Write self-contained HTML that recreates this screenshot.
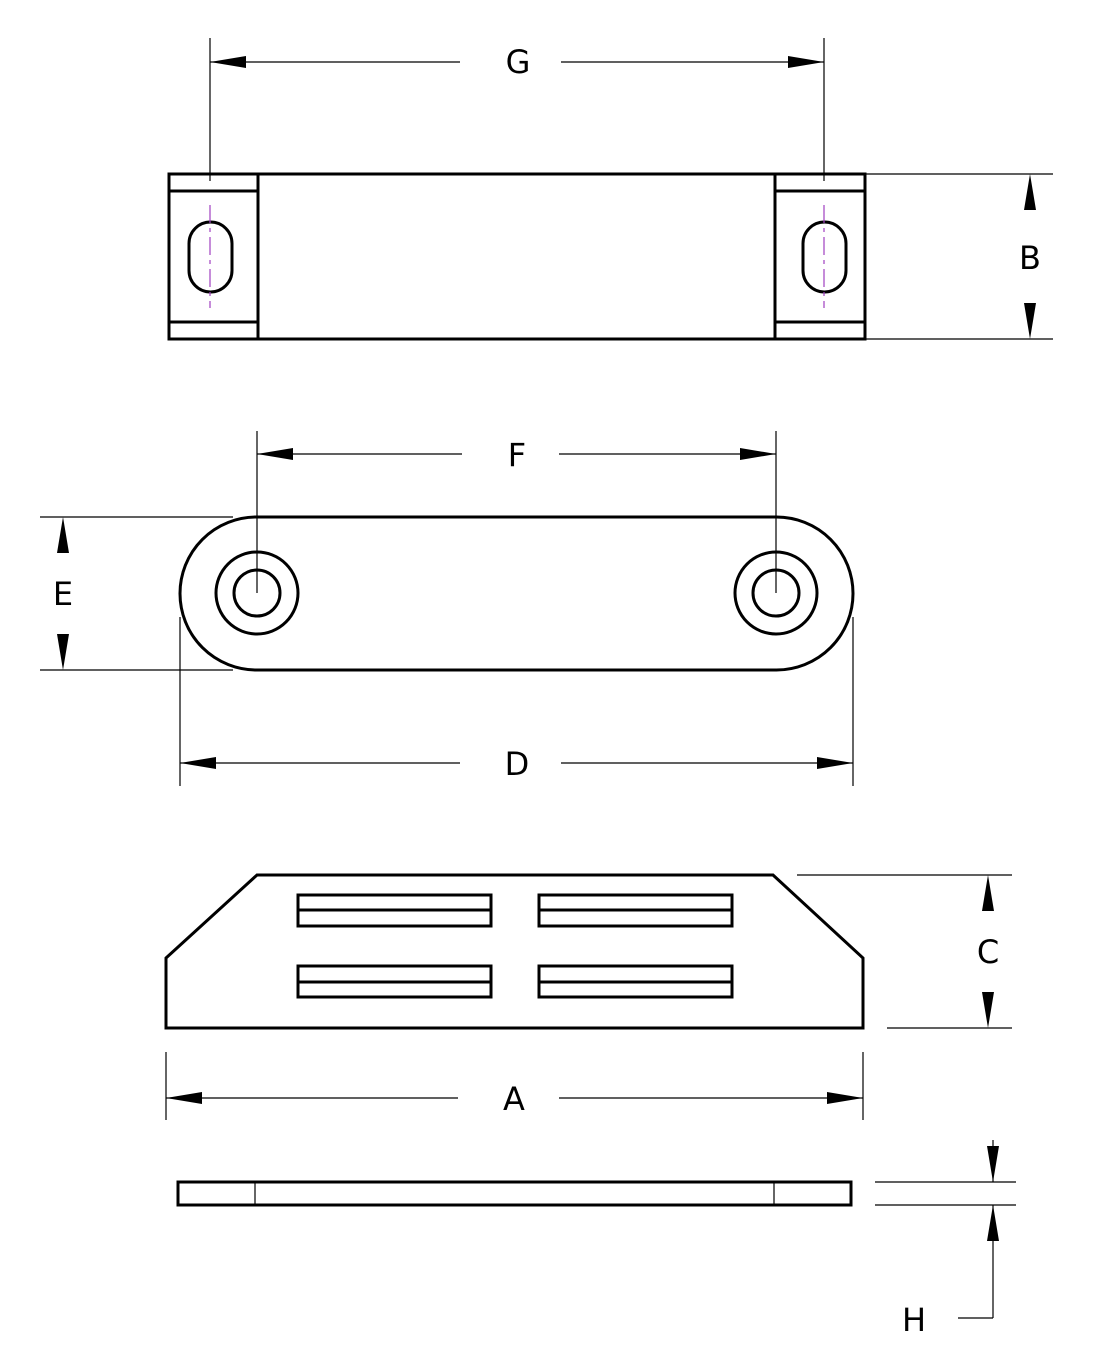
<!DOCTYPE html>
<html><head><meta charset="utf-8"><style>
html,body{margin:0;padding:0;background:#fff;}
svg{display:block;}
text{font-family:"DejaVu Sans","Liberation Sans",sans-serif;font-size:32px;fill:#000;text-anchor:middle;dominant-baseline:central;}
</style></head><body>
<svg width="1096" height="1369" viewBox="0 0 1096 1369" xmlns="http://www.w3.org/2000/svg">
<defs>
<g id="ar"><polygon points="0,0 -6,36 6,36" fill="#000"/></g>
</defs>
<g fill="none" stroke="#000">
<!-- TOP VIEW -->
<g stroke-width="3">
<rect x="169" y="174" width="696" height="165"/>
<line x1="258" y1="174" x2="258" y2="339"/>
<line x1="775" y1="174" x2="775" y2="339"/>
<line x1="169" y1="191" x2="258" y2="191"/>
<line x1="169" y1="322" x2="258" y2="322"/>
<line x1="775" y1="191" x2="865" y2="191"/>
<line x1="775" y1="322" x2="865" y2="322"/>
<rect x="189" y="222" width="43" height="70" rx="21.5"/>
<rect x="803" y="222" width="43" height="70" rx="21.5"/>
</g>
<g stroke="#a040c0" stroke-width="1.2" stroke-dasharray="18,5,4,5">
<line x1="210" y1="205" x2="210" y2="308"/>
<line x1="824" y1="205" x2="824" y2="308"/>
</g>
<g stroke-width="1.2">
<line x1="210" y1="38" x2="210" y2="181"/>
<line x1="824" y1="38" x2="824" y2="181"/>
<line x1="210" y1="62" x2="460" y2="62"/>
<line x1="561" y1="62" x2="824" y2="62"/>
<line x1="865" y1="174" x2="1053" y2="174"/>
<line x1="865" y1="339" x2="1053" y2="339"/>
</g>
<!-- MIDDLE VIEW -->
<g stroke-width="3">
<rect x="180" y="517" width="673" height="153" rx="76.5"/>
<circle cx="257" cy="593" r="41"/>
<circle cx="257" cy="593" r="23"/>
<circle cx="776" cy="593" r="41"/>
<circle cx="776" cy="593" r="23"/>
</g>
<g stroke-width="1.2">
<line x1="257" y1="431" x2="257" y2="593"/>
<line x1="776" y1="431" x2="776" y2="593"/>
<line x1="257" y1="454" x2="462" y2="454"/>
<line x1="559" y1="454" x2="776" y2="454"/>
<line x1="40" y1="517" x2="233" y2="517"/>
<line x1="40" y1="670" x2="233" y2="670"/>
<line x1="180" y1="617" x2="180" y2="786"/>
<line x1="853" y1="617" x2="853" y2="786"/>
<line x1="180" y1="763" x2="460" y2="763"/>
<line x1="561" y1="763" x2="853" y2="763"/>
</g>
<!-- SIDE VIEW -->
<g stroke-width="3">
<polygon points="166,958 257,875 773,875 863,958 863,1028 166,1028"/>
<rect x="298" y="895" width="193" height="31"/>
<line x1="298" y1="910" x2="491" y2="910"/>
<rect x="539" y="895" width="193" height="31"/>
<line x1="539" y1="910" x2="732" y2="910"/>
<rect x="298" y="966" width="193" height="31"/>
<line x1="298" y1="982" x2="491" y2="982"/>
<rect x="539" y="966" width="193" height="31"/>
<line x1="539" y1="982" x2="732" y2="982"/>
</g>
<g stroke-width="1.2">
<line x1="797" y1="875" x2="1012" y2="875"/>
<line x1="887" y1="1028" x2="1012" y2="1028"/>
<line x1="166" y1="1052" x2="166" y2="1120"/>
<line x1="863" y1="1052" x2="863" y2="1120"/>
<line x1="166" y1="1098" x2="458" y2="1098"/>
<line x1="559" y1="1098" x2="863" y2="1098"/>
</g>
<!-- THIN VIEW -->
<g stroke-width="3">
<rect x="178" y="1182" width="673" height="23"/>
</g>
<g stroke-width="1.2">
<line x1="255" y1="1182" x2="255" y2="1205"/>
<line x1="774" y1="1182" x2="774" y2="1205"/>
<line x1="875" y1="1182" x2="1016" y2="1182"/>
<line x1="875" y1="1205" x2="1016" y2="1205"/>
<line x1="993" y1="1140" x2="993" y2="1182"/>
<line x1="993" y1="1205" x2="993" y2="1318"/>
<line x1="958" y1="1318" x2="993" y2="1318"/>
</g>
</g>
<!-- arrows -->
<use href="#ar" transform="translate(210,62) rotate(-90)"/>
<use href="#ar" transform="translate(824,62) rotate(90)"/>
<use href="#ar" transform="translate(1030,174)"/>
<use href="#ar" transform="translate(1030,339) rotate(180)"/>
<use href="#ar" transform="translate(257,454) rotate(-90)"/>
<use href="#ar" transform="translate(776,454) rotate(90)"/>
<use href="#ar" transform="translate(63,517)"/>
<use href="#ar" transform="translate(63,670) rotate(180)"/>
<use href="#ar" transform="translate(180,763) rotate(-90)"/>
<use href="#ar" transform="translate(853,763) rotate(90)"/>
<use href="#ar" transform="translate(988,875)"/>
<use href="#ar" transform="translate(988,1028) rotate(180)"/>
<use href="#ar" transform="translate(166,1098) rotate(-90)"/>
<use href="#ar" transform="translate(863,1098) rotate(90)"/>
<use href="#ar" transform="translate(993,1182) rotate(180)"/>
<use href="#ar" transform="translate(993,1205)"/>
<text x="518" y="62">G</text>
<text x="1030" y="258">B</text>
<text x="517" y="455">F</text>
<text x="63" y="594">E</text>
<text x="517" y="764">D</text>
<text x="988" y="952">C</text>
<text x="514" y="1099">A</text>
<text x="914" y="1320">H</text>
</svg>
</body></html>
